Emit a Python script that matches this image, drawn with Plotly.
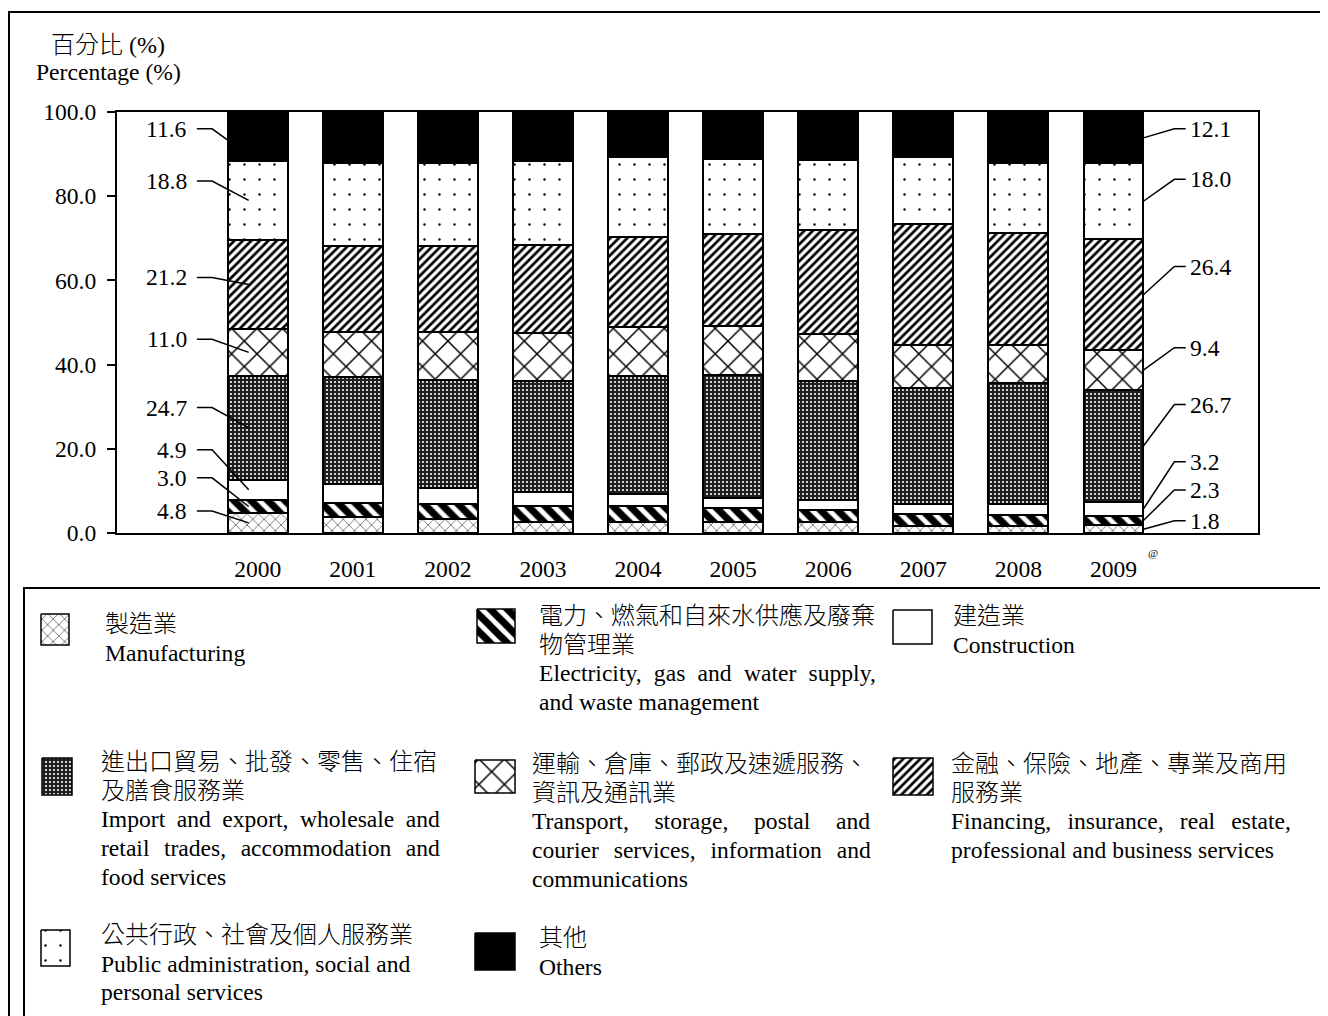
import plotly.graph_objects as go

# ---------------- data ----------------
years = ["2000", "2001", "2002", "2003", "2004", "2005", "2006", "2007", "2008", "2009"]
manufacturing = [4.8, 3.9, 3.3, 2.7, 2.7, 2.5, 2.5, 1.7, 1.7, 1.8]
electricity = [3.0, 3.2, 3.5, 3.6, 3.6, 3.4, 2.9, 2.7, 2.6, 2.3]
construction = [4.9, 4.5, 4.0, 3.5, 2.9, 2.5, 2.5, 2.4, 2.5, 3.2]
import_trade = [24.7, 25.4, 25.6, 26.2, 28.0, 29.2, 28.3, 27.7, 28.8, 26.7]
transport = [11.0, 10.8, 11.4, 11.4, 11.7, 11.5, 11.1, 10.1, 9.0, 9.4]
financing = [21.2, 20.4, 20.4, 21.0, 21.3, 22.0, 24.6, 28.7, 26.6, 26.4]
public_admin = [18.8, 19.6, 19.8, 20.0, 19.0, 17.7, 16.7, 16.1, 16.8, 18.0]
others = [11.6, 12.2, 12.0, 11.6, 10.8, 11.2, 11.4, 10.6, 12.0, 12.1]

series = [manufacturing, electricity, construction, import_trade,
          transport, financing, public_admin, others]

yticks = [0, 20, 40, 60, 80, 100]

# ---------------- styles ----------------
W, H = 1328, 1016
OFF = 8  # page body margin: figure is drawn 8px right/down in the window
FONT = "'Liberation Serif', 'Times New Roman', 'Noto Sans CJK TC', serif"
FS = 23.6        # latin text size
FS_CJK = 24      # chinese text size
LEG_BASE = 22.1  # base size of legend blocks -> line pitch 1.3 * 22.1 = 28.7px

patterns = [
    dict(shape="x", fgcolor="#333333", bgcolor="white", size=8, solidity=0.15),   # manufacturing
    dict(shape="\\", fgcolor="black", bgcolor="white", size=12, solidity=0.6),     # electricity
    dict(shape="", fgcolor="white", bgcolor="white"),                              # construction
    dict(shape=".", fgcolor="white", bgcolor="#1e1e1e", size=4, solidity=0.22),   # import
    dict(shape="x", fgcolor="black", bgcolor="white", size=18, solidity=0.16),    # transport
    dict(shape="/", fgcolor="black", bgcolor="white", size=6, solidity=0.45),     # financing
    dict(shape=".", fgcolor="black", bgcolor="white", size=15, solidity=0.02),    # public
    dict(shape="", fgcolor="black", bgcolor="black"),                              # others
]
colors = ["white", "white", "white", "#1e1e1e", "white", "white", "white", "black"]

left_label_y = [5.2, 13.1, 19.8, 29.8, 46.0, 60.7, 83.6, 96.0]
right_label_y = [2.9, 10.2, 16.9, 30.5, 44.0, 63.3, 84.0, 96.0]

x_idx = list(range(len(years)))
BAR_W = 0.63

fig = go.Figure()

for vals, pat, col in zip(series, patterns, colors):
    fig.add_trace(go.Bar(
        x=x_idx, y=vals, width=BAR_W,
        marker=dict(color=col, pattern=pat, line=dict(color="black", width=2)),
        hoverinfo="skip", showlegend=False,
    ))


def mids(col_index):
    out = []
    base = 0.0
    for s in series:
        v = s[col_index]
        out.append(base + v / 2.0)
        base += v
    return out


first, last = 0, len(years) - 1
lm = mids(first)
rm = mids(last)

annotations = []
for k, s in enumerate(series):
    ly = left_label_y[k]
    end_x = first - 0.095 if k < len(series) - 1 else first - BAR_W / 2
    end_y = lm[k] if k < len(series) - 1 else 93.3
    fig.add_trace(go.Scatter(
        x=[first - 0.64, first - 0.48, end_x], y=[ly, ly, end_y],
        mode="lines", line=dict(color="black", width=1.5),
        hoverinfo="skip", showlegend=False))
    annotations.append(dict(x=first - 0.72, y=ly, xref="x", yref="y",
                            text=f"{s[first]:.1f}", showarrow=False,
                            xanchor="right", yanchor="middle",
                            font=dict(size=FS, family=FONT, color="black")))
for k, s in enumerate(series):
    ly = right_label_y[k]
    start_x = last + BAR_W / 2
    fig.add_trace(go.Scatter(
        x=[start_x, last + 0.64, last + 0.76], y=[rm[k], ly, ly],
        mode="lines", line=dict(color="black", width=1.5),
        hoverinfo="skip", showlegend=False))
    annotations.append(dict(x=last + 0.78, y=ly, xref="x", yref="y",
                            text=f"{s[last]:.1f}", showarrow=False,
                            xanchor="left", yanchor="middle",
                            font=dict(size=FS, family=FONT, color="black")))

# ---------------- legend (pixel overlay, window coordinates) ----------------
TW = {c: w for c, w in zip("abcdefghijklmnopqrstuvwxyz",
      [444, 500, 444, 500, 444, 333, 500, 500, 278, 278, 500, 278, 778, 500, 500,
       500, 500, 333, 389, 278, 500, 500, 722, 500, 500, 444])}
TW.update({c: w for c, w in zip("ABCDEFGHIJKLMNOPQRSTUVWXYZ",
      [722, 667, 667, 722, 611, 556, 722, 722, 333, 389, 722, 611, 889, 722, 722,
       556, 722, 667, 556, 611, 722, 722, 944, 722, 722, 611])})
TW.update({",": 250, ".": 250, " ": 250, "(": 333, ")": 333, "%": 833})


def text_w(s, size):
    return sum(TW.get(c, 500) for c in s) * size / 1000.0


# (icon box), text x, y of first line centre, chinese lines, [(english, justify_right_edge)]
legend_items = [
    ((41, 614, 69, 645), 104, 623, ["製造業"],
     [("Manufacturing", None)]),
    ((477, 609, 515, 643), 538, 615, ["電力、燃氣和自來水供應及廢棄", "物管理業"],
     [("Electricity, gas and water supply,", 878), ("and waste management", None)]),
    ((893, 610, 932, 644), 952, 615, ["建造業"],
     [("Construction", None)]),
    ((42, 758, 72, 795), 100, 761, ["進出口貿易、批發、零售、住宿", "及膳食服務業"],
     [("Import and export, wholesale and", 439),
      ("retail trades, accommodation and", 439),
      ("food services", None)]),
    ((475, 760, 515, 793), 531, 763, ["運輸、倉庫、郵政及速遞服務、", "資訊及通訊業"],
     [("Transport, storage, postal and", 870),
      ("courier services, information and", 870),
      ("communications", None)]),
    ((893, 758, 933, 795), 950, 763, ["金融、保險、地產、專業及商用", "服務業"],
     [("Financing, insurance, real estate,", 1290),
      ("professional and business services", None)]),
    ((41, 930, 70, 966), 100, 934, ["公共行政、社會及個人服務業"],
     [("Public administration, social and", None), ("personal services", None)]),
    ((475, 933, 515, 970), 538, 937, ["其他"],
     [("Others", None)]),
]

TOP_SHIFT = 13.5  # distance from first line centre to the top of the text block


def txt(x, y, t, size, anchor="left", yanchor="middle"):
    return dict(x=x, y=y, xref="x2", yref="y2", text=t, showarrow=False,
                xanchor=anchor, yanchor=yanchor, align="left", borderpad=0,
                font=dict(size=size, family=FONT, color="black"))


for (box, tx, fy, zh_lines, en_lines), pat, col in zip(legend_items, patterns, colors):
    x0, y0, x1, y1 = box
    fig.add_trace(go.Scatter(
        x=[x0, x1, x1, x0, x0], y=[y0, y0, y1, y1, y0],
        xaxis="x2", yaxis="y2", mode="lines", fill="toself",
        fillcolor=col, fillpattern=pat,
        line=dict(color="black", width=1.5),
        hoverinfo="skip", showlegend=False))
    parts = [f'<span style="font-size:{FS_CJK}px;font-weight:300">{t}</span>' for t in zh_lines]
    for t, right in en_lines:
        if right is None:
            parts.append(f'<span style="font-size:{FS}px">{t}</span>')
        else:
            n_gaps = t.count(" ")
            extra = (right - tx - text_w(t, FS)) / n_gaps
            parts.append(f'<span style="font-size:{FS}px;word-spacing:{extra:.2f}px">{t}</span>')
    annotations.append(txt(tx, fy - TOP_SHIFT, "<br>".join(parts), LEG_BASE, yanchor="top"))

annotations += [
    txt(50, 45, '<span style="font-weight:300">百分比</span> (%)', FS_CJK),
    txt(35, 72, "Percentage (%)", FS),
    txt(1147, 553, "@", 11),
]

shapes = [
    dict(type="rect", xref="x2", yref="y2", x0=9, y0=12, x1=1345, y1=1040,
         line=dict(color="black", width=2), layer="below"),
    dict(type="rect", xref="x2", yref="y2", x0=24, y0=588, x1=1321, y1=1040,
         line=dict(color="black", width=2), layer="below"),
]

fig.update_layout(
    template="none",
    width=W, height=H,
    margin=dict(l=0, r=0, t=0, b=0, pad=0, autoexpand=False),
    paper_bgcolor="white", plot_bgcolor="rgba(0,0,0,0)",
    barmode="stack", bargap=0,
    font=dict(family=FONT, size=FS, color="black"),
    xaxis=dict(domain=[(117 - OFF) / W, (1258 - OFF) / W], range=[-1.48, 10.52],
               automargin=False, tickvals=x_idx, ticktext=years, ticks="",
               showgrid=False, zeroline=False, showline=True, linecolor="black",
               linewidth=2, mirror=True, ticklabelstandoff=14, fixedrange=True,
               tickfont=dict(size=FS, family=FONT, color="black")),
    yaxis=dict(domain=[1 - (533 - OFF) / H, 1 - (112 - OFF) / H], range=[0, 100],
               automargin=False, tickvals=yticks, tickformat=".1f", ticks="outside",
               ticklen=8, tickwidth=1.5, tickcolor="black", showgrid=False,
               zeroline=False, showline=True, linecolor="black", linewidth=2,
               mirror=True, ticklabelstandoff=6, fixedrange=True,
               tickfont=dict(size=FS, family=FONT, color="black")),
    xaxis2=dict(domain=[0, 1], range=[OFF, W + OFF], visible=False, anchor="y2",
                automargin=False, fixedrange=True),
    yaxis2=dict(domain=[0, 1], range=[H + OFF, OFF], visible=False, anchor="x2",
                automargin=False, fixedrange=True),
    annotations=annotations,
    shapes=shapes,
)

fig.write_html("out.html")
